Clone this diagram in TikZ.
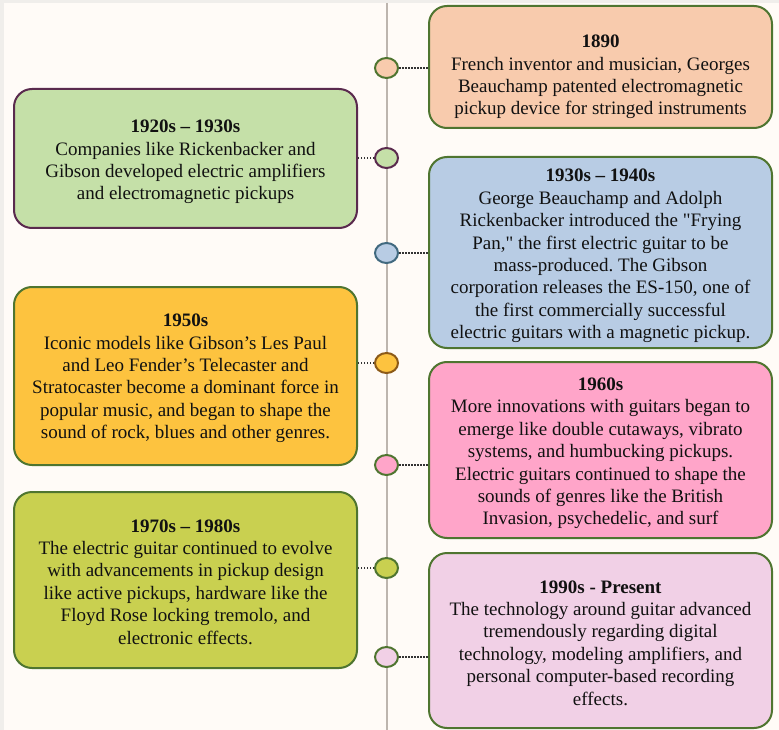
\documentclass[tikz,border=0pt]{standalone}
\usepackage{fontspec}
\setmainfont{Liberation Serif}[Ligatures=TeXOff]
\usetikzlibrary{shapes.geometric}
\frenchspacing
\definecolor{bgout}{HTML}{F0EEEB}
\definecolor{bgin}{HTML}{FFFBF7}
\definecolor{tline}{HTML}{BDB5AE}
\definecolor{bdgreen}{HTML}{4F7530}
\definecolor{bdpurple}{HTML}{5A2A4E}
\definecolor{bdblue}{HTML}{41697F}
\definecolor{bdbrown}{HTML}{8C5A18}
\definecolor{fpeach}{HTML}{F8CBAD}
\definecolor{fgreen}{HTML}{C5E0A8}
\definecolor{fblue}{HTML}{B8CCE4}
\definecolor{forange}{HTML}{FDC33F}
\definecolor{fpink}{HTML}{FFA5C9}
\definecolor{folive}{HTML}{C9D050}
\definecolor{flpink}{HTML}{F1D0E6}
\definecolor{txtc}{HTML}{111111}
\tikzset{
  x=1pt, y=-1pt,
  card/.style={draw=bdgreen, line width=2pt, rounded corners=18pt, inner sep=0pt, minimum width=343pt},
  txt/.style={align=center, text=txtc, font=\fontsize{19}{22.4}\selectfont, inner sep=0pt},
  dot/.style={ellipse, draw=bdgreen, line width=2pt, minimum width=23pt, minimum height=20pt, inner sep=0pt},
  link/.style={draw=black!80, line width=1.5pt, dash pattern=on 1.5pt off 1.5pt}
}
\begin{document}
\begin{tikzpicture}
\fill[bgout] (0,0) rectangle (779,730);
\fill[bgin] (4,3) rectangle (779,730);
\useasboundingbox (0,0) rectangle (779,730);
\coordinate (ltop) at (386.5,3);
\coordinate (lbot) at (386.5,730);
\draw[tline, line width=2pt] (ltop) -- (lbot);

% boxes
\node[card, fill=fpeach, minimum height=122pt] (b1) at (600.5,67) {};
\node[card, fill=fgreen, draw=bdpurple, minimum height=139pt] (b2) at (185.5,158.5) {};
\node[card, fill=fblue, minimum height=191pt] (b3) at (600.5,252.5) {};
\node[card, fill=forange, minimum height=178pt] (b4) at (185.5,376) {};
\node[card, fill=fpink, minimum height=176pt] (b5) at (600.5,450) {};
\node[card, fill=folive, minimum height=176pt] (b6) at (185.5,580) {};
\node[card, fill=flpink, minimum height=175pt] (b7) at (600.5,640.5) {};

% texts
\node[txt] (t1) at (600.5,77) {\textbf{1890}\\French inventor and musician, Georges\\Beauchamp patented electromagnetic\\pickup device for stringed instruments};
\node[txt] (t2) at (185.5,162) {\textbf{1920s – 1930s}\\Companies like Rickenbacker and\\Gibson developed electric amplifiers\\and electromagnetic pickups};
\node[txt] (t3) at (600.5,256) {\textbf{1930s – 1940s}\\George Beauchamp and Adolph\\Rickenbacker introduced the "Frying\\Pan," the first electric guitar to be\\mass-produced. The Gibson\\corporation releases the ES-150, one of\\the first commercially successful\\electric guitars with a magnetic pickup.};
\node[txt] (t4) at (185.5,378.5) {\textbf{1950s}\\Iconic models like Gibson’s Les Paul\\and Leo Fender’s Telecaster and\\Stratocaster become a dominant force in\\popular music, and began to shape the\\sound of rock, blues and other genres.};
\node[txt] (t5) at (600.5,453.5) {\textbf{1960s}\\More innovations with guitars began to\\emerge like double cutaways, vibrato\\systems, and humbucking pickups.\\Electric guitars continued to shape the\\sounds of genres like the British\\Invasion, psychedelic, and surf};
\node[txt] (t6) at (185.5,582) {\textbf{1970s – 1980s}\\The electric guitar continued to evolve\\with advancements in pickup design\\like active pickups, hardware like the\\Floyd Rose locking tremolo, and\\electronic effects.};
\node[txt] (t7) at (600.5,643) {\textbf{1990s - Present}\\The technology around guitar advanced\\tremendously regarding digital\\technology, modeling amplifiers, and\\personal computer-based recording\\effects.};

% connectors
\coordinate (c1p) at (386.5,68);
\coordinate (c2p) at (386.5,158);
\coordinate (c3p) at (386.5,253);
\coordinate (c4p) at (386.5,363);
\coordinate (c5p) at (386.5,465);
\coordinate (c6p) at (386.5,568);
\coordinate (c7p) at (386.5,657);
\node[dot, fill=fpeach] (c1) at (c1p) {};
\node[dot, fill=fgreen, draw=bdpurple] (c2) at (c2p) {};
\node[dot, fill=fblue, draw=bdblue] (c3) at (c3p) {};
\node[dot, fill=forange, draw=bdbrown] (c4) at (c4p) {};
\node[dot, fill=fpink] (c5) at (c5p) {};
\node[dot, fill=folive] (c6) at (c6p) {};
\node[dot, fill=flpink] (c7) at (c7p) {};

\draw[link] (c1.east) -- (c1.east -| b1.west);
\draw[link] (c2.west) -- (c2.west -| b2.east);
\draw[link] (c3.east) -- (c3.east -| b3.west);
\draw[link] (c4.west) -- (c4.west -| b4.east);
\draw[link] (c5.east) -- (c5.east -| b5.west);
\draw[link] (c6.west) -- (c6.west -| b6.east);
\draw[link] (c7.east) -- (c7.east -| b7.west);
\end{tikzpicture}
\end{document}
